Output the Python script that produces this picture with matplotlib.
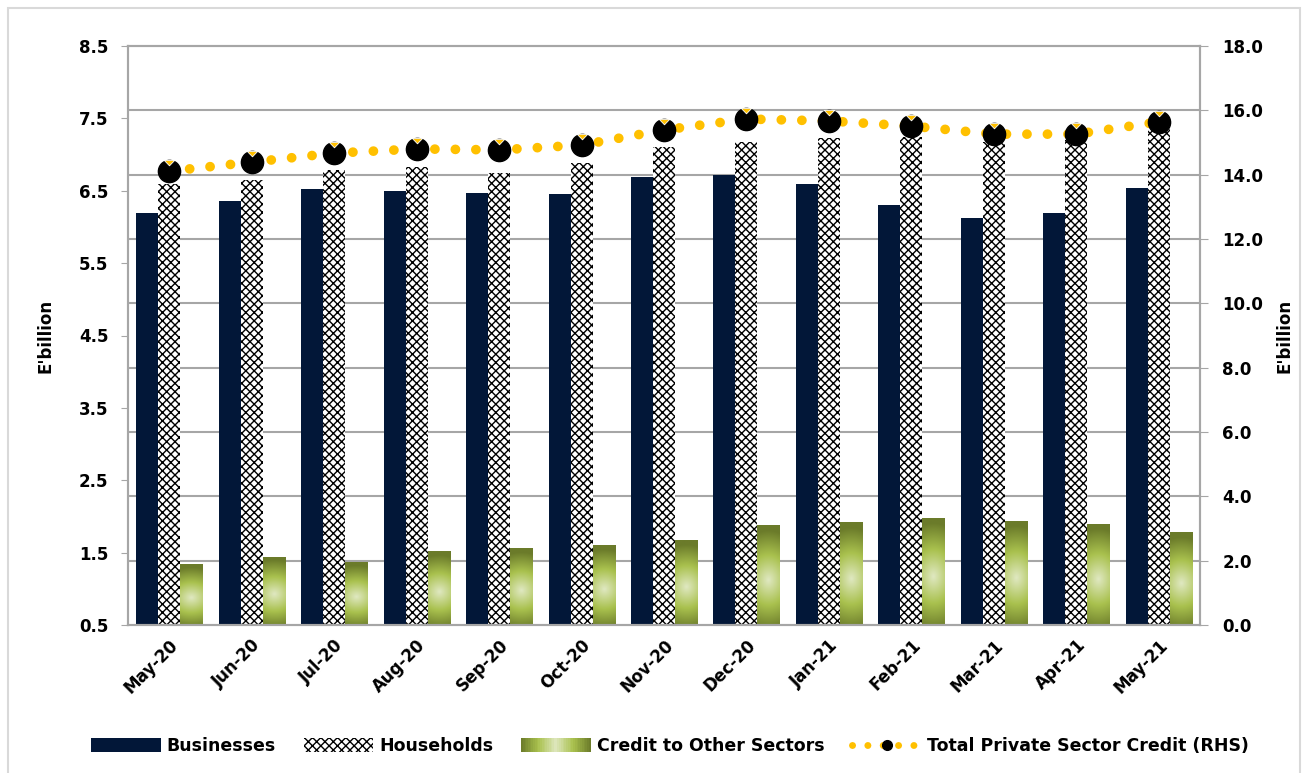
import numpy as np
import matplotlib
matplotlib.use('Agg')
import matplotlib.pyplot as plt
from matplotlib.patches import Patch, Rectangle
from matplotlib.lines import Line2D
from matplotlib.path import Path
from matplotlib.legend_handler import HandlerBase
from matplotlib.colors import LinearSegmentedColormap
from matplotlib.ticker import FixedLocator

plt.rcParams['font.family'] = ['DejaVu Sans']
plt.rcParams['hatch.linewidth'] = 1.0

months = ['May-20', 'Jun-20', 'Jul-20', 'Aug-20', 'Sep-20', 'Oct-20', 'Nov-20',
          'Dec-20', 'Jan-21', 'Feb-21', 'Mar-21', 'Apr-21', 'May-21']
businesses = [6.19, 6.36, 6.52, 6.49, 6.47, 6.45, 6.69, 6.72, 6.59, 6.31, 6.12, 6.19, 6.54]
households = [6.60, 6.65, 6.78, 6.83, 6.74, 6.88, 7.10, 7.18, 7.23, 7.24, 7.17, 7.20, 7.36]
other_sectors = [1.34, 1.44, 1.37, 1.52, 1.56, 1.60, 1.67, 1.88, 1.92, 1.98, 1.94, 1.90, 1.78]
total_credit = [14.11, 14.39, 14.67, 14.80, 14.77, 14.92, 15.39, 15.73, 15.67, 15.51, 15.26, 15.26, 15.64]

navy = '#021738'
gold = '#FFC000'
grid_col = '#A6A6A6'
olive = LinearSegmentedColormap.from_list('olive', ['#6B7B2A', '#A9C14E', '#DEE7BE'])

W, H = 1309, 773
fig = plt.figure(figsize=(W / 100, H / 100), dpi=100)
ax1 = fig.add_axes([128 / W, 1 - 625 / H, (1200 - 128) / W, (625 - 46) / H])
ax2 = ax1.twinx()

x = np.arange(len(months))
bw = 0.267
base = 0.5

ax1.bar(x - bw, np.array(businesses) - base, bw, bottom=base, color=navy, zorder=2)
ax1.bar(x, np.array(households) - base, bw, bottom=base, facecolor='white',
        edgecolor='black', hatch='xxxx', linewidth=0, zorder=2)
oth = ax1.bar(x + bw, np.array(other_sectors) - base, bw, bottom=base,
              facecolor='none', linewidth=0, zorder=2)

# radial gradient fill for the other-sectors bars (light centre, dark olive edges)
yy, xx = np.mgrid[-1:1:80j, -1:1:30j]
shade = 1 - np.clip(np.sqrt((0.3 * xx) ** 2 + (yy + 0.1) ** 2), 0, 1)
for r in oth:
    x0, y0, w, h = r.get_x(), r.get_y(), r.get_width(), r.get_height()
    im = ax1.imshow(shade, cmap=olive, extent=(x0, x0 + w, y0, y0 + h),
                    aspect='auto', origin='lower', zorder=2, interpolation='bilinear')
    im.set_clip_path(r)

ax1.set_xlim(-0.5, len(months) - 0.5)
ax1.set_ylim(0.5, 8.5)
ax2.set_ylim(0, 18)

# gridlines follow the right-hand axis
right_ticks = np.arange(0, 19, 2)
ax1.yaxis.set_minor_locator(FixedLocator(0.5 + right_ticks * 8 / 18))
ax1.grid(which='minor', axis='y', color=grid_col, lw=1.5, zorder=0)
ax1.tick_params(axis='y', which='minor', length=0)
ax1.set_axisbelow(True)

ax1.set_yticks(np.arange(0.5, 8.6, 1))
ax1.set_yticklabels(['%.1f' % v for v in np.arange(0.5, 8.6, 1)], fontsize=12, fontweight='bold')
ax2.set_yticks(right_ticks)
ax2.set_yticklabels(['%.1f' % v for v in right_ticks], fontsize=12, fontweight='bold')
ax1.set_xticks(x)
ax1.set_xticklabels(months, rotation=45, ha='right', rotation_mode='anchor',
                    fontsize=12, fontweight='bold')
ax1.tick_params(axis='x', length=0, pad=8)
ax1.tick_params(axis='y', which='major', length=5, color=grid_col, pad=9)
ax2.tick_params(axis='y', length=6, color=grid_col, pad=10)

for a in (ax1, ax2):
    for s in a.spines.values():
        s.set_color(grid_col)
        s.set_linewidth(1.5)

ax1.set_ylabel("E'billion", fontsize=12, fontweight='bold', labelpad=18)
ax2.set_ylabel("E'billion", fontsize=12, fontweight='bold', labelpad=9)

# total credit line: gold round dots + black markers with a notch
notch = Path([(-0.26, 0.55), (0.26, 0.55), (0.0, 0.28), (-0.26, 0.55)],
             [Path.MOVETO, Path.LINETO, Path.LINETO, Path.CLOSEPOLY])
ax2.plot(x, total_credit, color=gold, lw=7, linestyle=(0, (0.01, 2.1)),
         dash_capstyle='round', zorder=3)
ax2.plot(x, total_credit, linestyle='none', marker='o', ms=16, mfc='black',
         mec='black', zorder=4)
ax2.plot(x, total_credit, linestyle='none', marker=notch, ms=16, mfc=gold,
         mec='white', mew=0.6, zorder=5)


class GradHandler(HandlerBase):
    def create_artists(self, legend, orig_handle, xdescent, ydescent, width, height,
                       fontsize, trans):
        n = 40
        arts = []
        for k in range(n):
            t = 1 - abs((k + 0.5) / n - 0.5) * 2
            arts.append(Rectangle((-xdescent + k * width / n, -ydescent), width / n * 1.1,
                                  height, facecolor=olive(t), edgecolor='none',
                                  transform=trans))
        return arts


h_bus = Patch(facecolor=navy)
h_hh = Patch(facecolor='white', edgecolor='black', hatch='xxxx', linewidth=0)
h_oth = Patch(facecolor='#A9C14E')
h_tot = (Line2D([], [], color=gold, lw=5, linestyle=(0, (0.01, 2.2)), dash_capstyle='round'),
         Line2D([], [], linestyle='none', marker='o', ms=7, mfc='black', mec='black'))
fig.legend([h_bus, h_hh, h_oth, h_tot],
           ['Businesses', 'Households', 'Credit to Other Sectors',
            'Total Private Sector Credit (RHS)'],
           loc='center', bbox_to_anchor=(0.512, 1 - 746 / H), ncol=4, frameon=False,
           prop={'size': 12.5, 'weight': 'bold'}, handlelength=4, handleheight=0.8,
           handletextpad=0.35, columnspacing=1.6,
           handler_map={h_oth: GradHandler()})

fig.patches.append(Rectangle((8 / W, -0.02), (1300 - 8) / W, 1 - 8 / H + 0.02,
                             transform=fig.transFigure, fill=False,
                             edgecolor='#D9D9D9', lw=1.5))

fig.savefig('out.png', dpi=100)
